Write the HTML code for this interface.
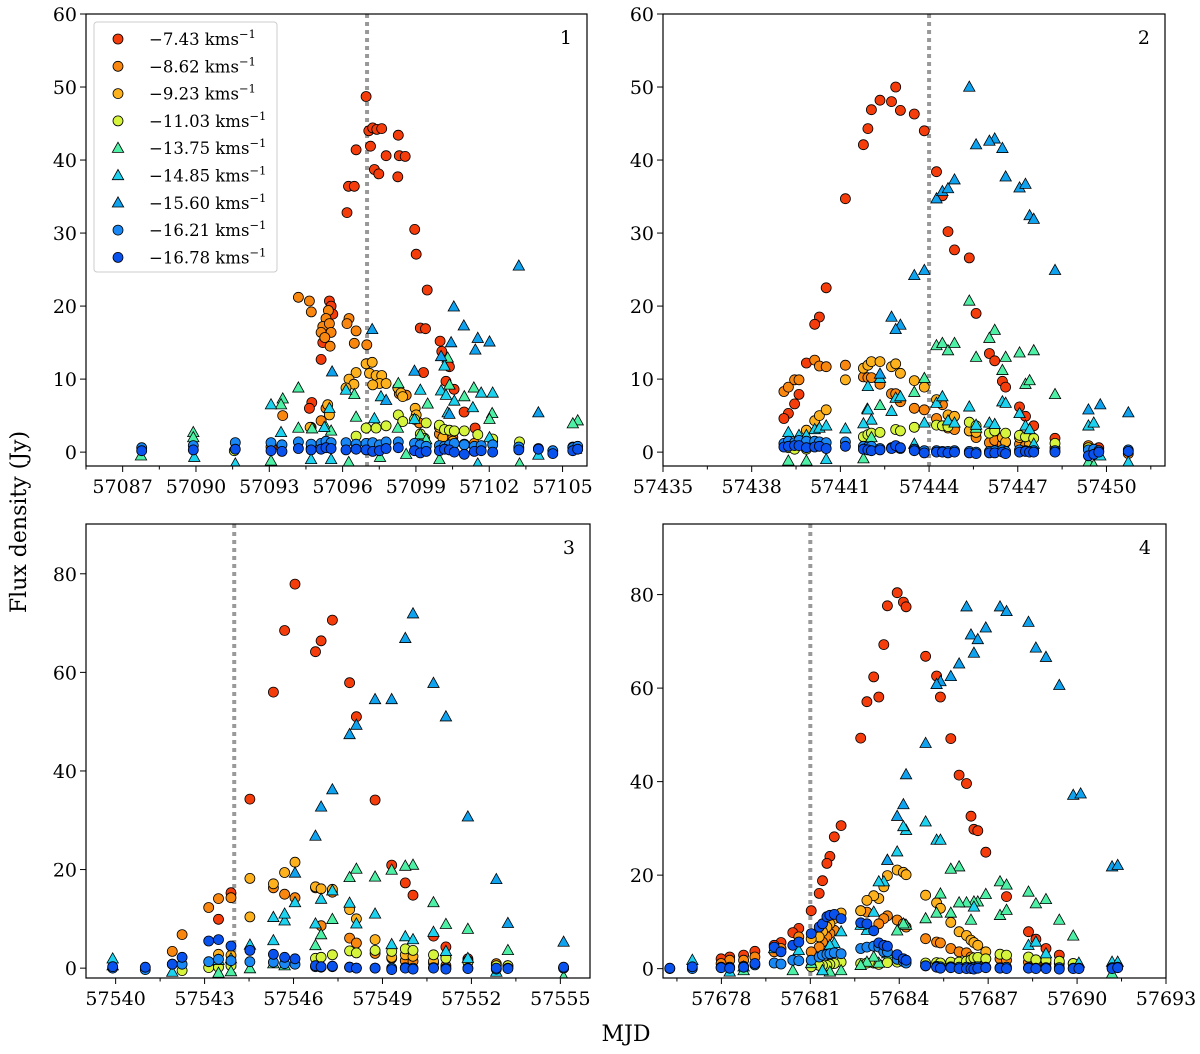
<!DOCTYPE html>
<html><head><meta charset="utf-8"><style>
html,body{margin:0;padding:0;background:#fff}
svg{display:block;font-family:"DejaVu Serif","Liberation Serif",serif}
</style></head><body>
<svg id="chart" width="1200" height="1054" viewBox="0 0 1200 1054" xmlns="http://www.w3.org/2000/svg">
<text x="0" y="0" transform="translate(26,522) rotate(-90)" text-anchor="middle" font-size="22">Flux density (Jy)</text>
<text x="626" y="1041" text-anchor="middle" font-size="22">MJD</text>
</svg>
<script>
// ---------- DATA ----------
const velocityLabels = ["−7.43","−8.62","−9.23","−11.03","−13.75","−14.85","−15.60","−16.21","−16.78"];
const panelNames = ["1","2","3","4"];
const eventMjd = [57097.0, 57444.0, 57544.0, 57681.0];

// Panel 1
const p1_743 = [[57096.96,48.7],[57097.07,44.0],[57097.23,44.4],[57097.40,44.2],[57097.60,44.3],[57098.28,43.4],[57096.55,41.4],[57097.14,41.9],[57097.78,40.6],[57098.32,40.6],[57098.56,40.5],[57097.30,38.7],[57097.48,38.1],[57098.26,37.7],[57096.24,36.4],[57096.48,36.4],[57096.18,32.8],[57098.95,30.5],[57099.01,27.1],[57099.46,22.2],[57099.18,17.0],[57099.39,16.9],[57099.99,15.2],[57100.06,13.8],[57100.37,11.7],[57099.31,10.9],[57100.23,9.7],[57100.56,8.6],[57100.97,5.5],[57101.42,3.3],[57094.74,6.8],[57094.64,6.0],[57095.12,12.7],[57095.46,20.7],[57095.53,20.0],[57095.60,18.9],[57095.19,15.0],[57093.48,0.7]];
const p1_862 = [[57094.19,21.2],[57094.64,20.7],[57094.72,19.2],[57095.42,19.4],[57095.32,18.3],[57095.19,17.2],[57095.46,17.6],[57095.12,16.4],[57095.53,16.4],[57095.27,15.7],[57095.49,14.5],[57096.26,18.3],[57096.18,17.6],[57096.55,16.6],[57096.48,14.9],[57096.99,14.7],[57093.55,5.0],[57095.32,6.0],[57095.12,4.3],[57094.71,3.4],[57098.32,8.0],[57098.60,7.8],[57099.14,4.0],[57099.96,2.5],[57100.51,2.0],[57101.39,1.2]];
const p1_923 = [[57096.96,12.1],[57097.21,12.3],[57097.10,10.8],[57097.37,10.5],[57097.60,10.5],[57097.51,9.4],[57097.78,9.4],[57097.23,9.2],[57096.55,10.9],[57096.26,10.0],[57096.46,9.3],[57096.14,8.8],[57098.26,8.8],[57098.39,8.1],[57098.46,7.6],[57098.97,6.0],[57099.01,5.1],[57099.96,3.4],[57100.10,2.0],[57100.51,1.5],[57100.98,1.1],[57102.14,1.5],[57103.21,0.5],[57095.39,6.5],[57095.46,5.1],[57094.67,3.4],[57093.07,0.7],[57105.42,0.7]];
const p1_1103 = [[57096.96,3.3],[57097.37,3.3],[57097.78,3.6],[57098.28,5.1],[57098.46,4.2],[57098.94,4.5],[57099.42,4.0],[57099.96,3.7],[57100.17,3.1],[57100.37,3.0],[57100.57,2.9],[57100.98,2.9],[57101.53,2.4],[57102.14,1.8],[57103.24,1.4],[57096.55,2.2],[57091.57,0.2],[57094.71,0.5],[57099.18,2.5],[57099.35,1.9]];
const p1_1375 = [[57089.89,2.7],[57089.89,2.0],[57087.75,-0.5],[57093.55,7.3],[57093.48,6.5],[57094.19,8.8],[57094.19,3.3],[57094.75,3.2],[57095.32,3.4],[57095.53,2.9],[57096.55,4.8],[57096.48,7.9],[57097.53,-0.7],[57098.28,9.4],[57098.26,3.3],[57099.48,6.6],[57100.30,12.9],[57100.37,9.2],[57100.98,7.6],[57101.37,8.8],[57102.12,5.3],[57102.01,4.5],[57105.62,4.3],[57105.42,3.9],[57099.18,2.4],[57099.42,1.7],[57098.60,-0.3],[57099.96,-1.0],[57103.24,-1.6],[57096.25,-1.4],[57093.07,-1.2]];
const p1_1485 = [[57093.07,6.5],[57093.48,2.7],[57095.25,3.4],[57095.46,6.0],[57096.14,8.5],[57097.30,4.6],[57097.57,7.6],[57098.94,4.5],[57099.18,8.5],[57100.17,11.8],[57100.03,8.4],[57100.23,7.8],[57100.57,7.0],[57100.30,5.4],[57101.33,6.1],[57101.67,8.1],[57102.14,8.1],[57102.01,2.0],[57091.61,-1.6],[57094.71,-1.0],[57095.53,-1.0],[57089.93,-0.7],[57105.55,0.4],[57104.01,-0.4],[57101.53,-1.6]];
const p1_1560 = [[57103.21,25.5],[57100.55,19.9],[57100.96,17.3],[57101.53,15.6],[57102.01,15.1],[57101.43,14.0],[57100.44,15.0],[57100.03,13.1],[57097.21,16.8],[57095.57,11.0],[57098.94,11.1],[57104.01,5.4],[57097.78,7.1],[57100.37,5.2]];
const p1_blueMjd = [57087.78,57089.89,57091.61,57093.07,57093.52,57094.19,57094.71,57095.12,57095.32,57095.53,57096.14,57096.55,57096.96,57097.23,57097.51,57097.78,57098.28,57098.94,57099.18,57099.42,57099.96,57100.17,57100.37,57100.57,57100.98,57101.39,57101.67,57102.14,57103.21,57104.01,57104.60,57105.42,57105.62];
const p1_1621 = [0.6,0.9,1.3,1.3,1.0,1.4,1.1,1.2,1.5,1.3,1.3,1.1,1.2,1.3,1.0,1.4,1.4,1.2,1.0,0.8,0.9,0.8,1.0,1.2,1.0,0.8,0.9,1.0,0.7,0.5,0.2,0.6,0.8];
const p1_1678 = [0.2,0.3,0.4,0.2,0.1,0.5,0.3,0.4,0.6,0.5,0.3,0.4,0.3,0.1,0.2,0.5,0.6,0.2,-0.1,0.1,0.2,0.4,0.3,0.0,-0.3,0.1,0.2,0.0,0.3,0.4,-0.2,0.2,0.4];

// Panel 2
const p2_743 = [[57442.87,50.0],[57442.34,48.2],[57442.73,48.0],[57442.05,46.9],[57443.03,46.8],[57443.50,46.3],[57441.93,44.3],[57443.84,44.0],[57441.78,42.1],[57441.17,34.7],[57444.25,38.4],[57444.45,35.1],[57444.64,30.2],[57444.86,27.7],[57445.36,26.6],[57445.59,19.0],[57440.52,22.5],[57440.29,18.5],[57440.13,17.5],[57439.85,12.2],[57439.60,7.9],[57439.45,6.6],[57439.24,5.3],[57439.09,4.6],[57446.04,13.5],[57446.22,12.5],[57446.48,9.7],[57446.59,8.9],[57447.06,6.2],[57447.26,4.9],[57447.54,3.6],[57448.26,1.9],[57449.74,0.6]];
const p2_862 = [[57439.09,8.3],[57439.24,8.9],[57439.45,9.9],[57439.60,9.9],[57440.13,12.6],[57440.29,11.8],[57440.52,11.7],[57441.17,11.9],[57441.78,10.3],[57441.93,10.2],[57442.05,10.2],[57442.34,9.3],[57442.73,8.0],[57442.87,8.0],[57443.03,6.9],[57443.50,6.0],[57443.84,5.8],[57444.25,4.6],[57444.45,6.5],[57444.64,3.3],[57444.86,3.1],[57445.36,2.9],[57445.59,2.0],[57446.04,1.3],[57446.22,1.6],[57446.48,1.1],[57446.59,1.3],[57447.06,1.1],[57447.26,0.9],[57448.26,0.6],[57449.39,0.9],[57450.74,-0.2]];
const p2_923 = [[57439.85,3.0],[57440.13,4.3],[57440.29,5.0],[57440.52,5.8],[57441.17,9.9],[57441.78,11.5],[57441.93,11.9],[57442.05,12.4],[57442.34,12.4],[57442.73,11.7],[57442.87,12.1],[57443.03,10.8],[57443.50,9.8],[57443.84,8.9],[57444.25,7.2],[57444.64,5.1],[57444.86,4.9],[57445.36,2.9],[57445.59,2.7],[57446.22,2.9],[57446.48,2.0],[57446.59,1.4],[57447.06,2.0],[57447.40,1.1]];
const p2_1103 = [[57439.24,0.6],[57439.45,0.4],[57439.85,0.4],[57441.78,2.1],[57441.93,2.4],[57442.05,2.6],[57442.34,2.7],[57442.87,3.1],[57443.03,2.9],[57443.50,3.4],[57444.25,3.7],[57444.45,3.6],[57444.64,3.5],[57445.36,4.1],[57445.59,3.6],[57446.04,2.6],[57446.22,2.9],[57446.59,2.6],[57447.06,2.3],[57447.26,2.1],[57447.54,1.9],[57448.26,1.2],[57449.39,0.6]];
const p2_1375 = [[57445.36,20.7],[57446.22,16.7],[57446.04,15.6],[57445.59,13.0],[57446.59,13.0],[57444.25,14.6],[57444.45,14.9],[57444.64,13.9],[57444.86,14.9],[57447.06,13.6],[57447.54,13.9],[57446.48,11.2],[57447.26,9.3],[57447.40,9.8],[57448.26,7.9],[57443.84,10.1],[57443.50,8.2],[57442.34,6.4],[57442.05,2.0],[57441.91,5.9],[57439.24,-1.2],[57439.85,-1.2],[57441.78,-0.9],[57449.39,-1.4],[57449.57,-1.8],[57445.59,3.3]];
const p2_1485 = [[57441.93,9.0],[57442.34,10.1],[57442.87,7.4],[57443.03,7.6],[57442.73,5.6],[57441.93,5.8],[57442.05,4.4],[57443.84,4.0],[57444.25,6.7],[57444.45,7.6],[57444.64,4.3],[57444.86,4.0],[57445.36,6.2],[57445.59,3.7],[57446.48,6.9],[57446.59,6.7],[57447.06,5.3],[57447.26,3.6],[57447.40,3.1],[57446.04,4.0],[57446.22,3.8],[57449.39,3.6],[57449.57,4.0],[57439.24,2.7],[57439.60,2.3],[57439.85,2.3],[57440.13,3.1],[57440.29,3.3],[57440.52,3.6],[57441.17,3.2],[57441.78,3.9],[57440.52,-1.0],[57449.79,-0.5],[57450.74,-1.4],[57443.50,1.1],[57447.54,1.1]];
const p2_1560 = [[57445.36,50.0],[57446.22,42.9],[57446.04,42.6],[57445.59,42.1],[57446.48,41.6],[57446.59,37.7],[57447.06,36.2],[57447.26,36.7],[57447.40,32.4],[57447.54,31.9],[57448.26,24.9],[57444.25,34.7],[57444.45,35.7],[57444.64,36.1],[57444.86,37.3],[57443.84,24.9],[57443.50,24.2],[57442.73,18.5],[57443.03,17.4],[57442.87,16.8],[57450.74,5.4],[57449.79,6.5],[57449.39,5.8],[57442.34,10.7]];
const p2_blueMjd = [57439.09,57439.24,57439.45,57439.60,57439.85,57440.13,57440.29,57440.52,57441.17,57441.78,57441.93,57442.05,57442.34,57442.73,57442.87,57443.03,57443.50,57443.84,57444.25,57444.45,57444.64,57444.86,57445.36,57445.59,57446.04,57446.22,57446.48,57446.59,57447.06,57447.26,57447.40,57447.54,57448.26,57449.39,57449.57,57449.74,57450.74];
const p2_1621 = [1.2,1.5,1.3,1.6,1.5,1.5,1.4,1.3,1.4,0.8,0.7,0.8,0.5,0.6,0.7,0.5,0.4,0.2,0.2,0.1,0.1,0.2,0.1,0.0,0.1,0.2,0.3,0.1,0.3,0.2,0.1,0.2,0.2,0.3,0.4,0.2,0.3];
const p2_1678 = [0.7,0.8,0.9,0.9,0.6,0.7,0.8,0.5,0.8,0.4,0.3,0.2,0.3,0.5,0.9,0.6,0.2,-0.1,0.0,0.0,-0.1,0.0,-0.1,-0.2,-0.1,-0.1,0.0,-0.2,0.0,0.1,0.0,0.0,0.0,-0.5,-0.3,0.0,0.1];

// Panel 3
const p3_743 = [[57546.05,77.9],[57545.70,68.5],[57545.32,56.0],[57547.31,70.6],[57546.93,66.4],[57546.74,64.2],[57547.89,57.9],[57548.12,51.0],[57544.53,34.3],[57548.75,34.1],[57549.31,20.9],[57549.77,17.3],[57550.03,14.8],[57543.47,9.9],[57543.89,15.3],[57550.72,6.5],[57551.14,4.3],[57551.88,1.9]];
const p3_862 = [[57543.14,12.3],[57543.47,14.1],[57543.89,14.3],[57542.24,6.8],[57541.91,3.4],[57545.32,16.3],[57545.70,15.0],[57546.05,14.3],[57546.74,16.3],[57546.93,8.6],[57547.31,15.4],[57547.89,6.1],[57548.12,5.1],[57548.75,3.0],[57549.31,2.0],[57549.77,1.5],[57550.03,1.4],[57550.72,1.0],[57551.14,0.5],[57551.88,1.5],[57552.84,0.9],[57553.23,0.5],[57555.11,0.0]];
const p3_923 = [[57544.53,18.2],[57544.53,10.4],[57545.32,17.1],[57545.70,19.4],[57546.05,21.5],[57546.74,16.5],[57546.93,16.1],[57547.31,16.0],[57547.89,11.9],[57548.12,10.0],[57548.75,5.8],[57549.31,2.2],[57549.77,2.7],[57550.03,2.4],[57550.72,1.4],[57551.14,2.2],[57543.47,2.8],[57543.89,2.6]];
const p3_1103 = [[57542.24,-0.5],[57543.14,0.1],[57543.47,0.2],[57543.89,0.5],[57546.74,2.0],[57546.93,2.2],[57547.31,2.7],[57547.89,3.5],[57548.12,3.1],[57548.75,3.6],[57549.31,3.4],[57549.77,3.9],[57550.03,3.6],[57550.72,2.7],[57551.14,2.0],[57551.88,1.2],[57552.84,0.5],[57553.23,0.5]];
const p3_1375 = [[57550.03,20.9],[57549.77,20.7],[57549.31,19.9],[57548.75,18.5],[57548.12,20.1],[57547.89,18.4],[57550.72,13.3],[57551.14,8.9],[57551.88,7.9],[57553.23,3.6],[57547.31,9.9],[57546.93,6.8],[57546.74,4.6],[57545.32,0.9],[57545.70,0.5],[57544.53,-0.1],[57543.89,-0.7],[57543.47,-1.0],[57539.90,0.5],[57555.11,-1.8]];
const p3_1485 = [[57546.05,13.3],[57545.70,9.6],[57545.32,10.3],[57545.70,11.0],[57546.74,9.0],[57546.93,14.0],[57547.31,15.7],[57547.89,13.2],[57548.12,9.0],[57548.75,11.0],[57549.31,4.8],[57549.77,6.4],[57550.03,5.8],[57550.72,7.3],[57551.14,3.4],[57551.88,2.0],[57552.84,-0.8],[57545.32,5.6],[57544.53,4.7],[57539.90,1.9],[57541.91,-0.8],[57543.47,1.6],[57543.89,1.9]];
const p3_1560 = [[57550.03,71.9],[57549.77,66.9],[57548.75,54.5],[57549.31,54.5],[57550.72,57.8],[57551.14,51.0],[57547.89,47.4],[57548.12,49.3],[57547.31,36.2],[57546.93,32.7],[57546.74,26.8],[57551.88,30.7],[57552.84,18.0],[57553.23,9.1],[57555.11,5.3],[57546.05,19.3]];
const p3_blueMjd = [57539.90,57541.00,57541.91,57542.24,57543.14,57543.47,57543.89,57544.53,57545.32,57545.70,57546.05,57546.74,57546.93,57547.31,57547.89,57548.12,57548.75,57549.31,57549.77,57550.03,57550.72,57551.14,57551.88,57552.84,57553.23,57555.11];
const p3_1621 = [0.0,-0.3,0.8,0.8,1.3,1.8,1.5,1.3,1.2,0.9,0.8,0.3,0.2,0.3,0.2,0.0,0.0,0.0,0.1,0.0,0.1,0.0,0.0,-0.2,0.0,0.0];
const p3_1678 = [0.3,0.2,0.8,2.2,5.5,5.8,4.5,3.6,2.8,2.2,1.9,0.5,0.3,0.4,0.2,0.0,0.0,-0.3,0.0,-0.2,0.0,-0.2,-0.1,0.0,-0.1,0.2];

// Panel 4
const p4_743 = [[57683.93,80.4],[57684.14,78.4],[57684.23,77.4],[57683.60,77.6],[57683.48,69.3],[57683.14,62.4],[57683.31,58.1],[57682.91,57.1],[57682.70,49.3],[57684.89,66.8],[57685.26,62.6],[57685.39,58.1],[57685.74,49.2],[57686.02,41.4],[57686.27,39.6],[57686.42,32.6],[57686.52,29.8],[57686.65,29.5],[57686.92,24.9],[57687.62,15.4],[57688.36,7.9],[57688.61,6.3],[57688.95,4.3],[57689.40,2.9],[57682.04,30.6],[57681.81,28.2],[57681.66,24.0],[57681.56,22.5],[57681.41,18.8],[57681.30,16.1],[57681.03,12.4],[57680.61,8.6],[57680.41,7.7],[57680.01,5.6],[57679.78,5.0],[57679.13,3.7],[57678.75,2.9],[57678.28,2.5],[57677.99,2.1]];
const p4_862 = [[57683.60,11.3],[57683.48,10.7],[57683.31,9.6],[57683.93,10.4],[57684.14,9.6],[57684.23,8.9],[57684.89,6.4],[57685.26,5.7],[57685.39,5.5],[57685.74,4.3],[57686.02,3.6],[57686.27,3.4],[57686.42,2.5],[57686.65,2.1],[57686.92,2.1],[57687.40,2.1],[57687.62,1.8],[57688.36,1.4],[57688.61,1.1],[57688.95,1.1],[57689.40,1.1],[57689.87,1.1],[57682.70,12.4],[57682.91,12.1],[57681.81,8.2],[57681.66,7.5],[57681.56,6.8],[57681.41,5.7],[57681.30,4.6],[57681.03,3.6],[57680.61,6.8],[57680.01,4.3],[57679.78,3.6],[57679.13,2.5],[57678.75,1.8],[57678.28,1.8],[57677.99,1.1]];
const p4_923 = [[57683.93,21.1],[57684.14,20.6],[57684.23,20.1],[57683.60,19.9],[57683.48,17.5],[57683.31,15.0],[57683.14,15.6],[57682.91,14.6],[57682.70,12.4],[57684.89,15.7],[57685.26,14.1],[57685.39,12.9],[57685.74,9.9],[57686.02,7.9],[57686.27,7.1],[57686.42,6.1],[57686.52,5.6],[57686.65,5.0],[57686.92,3.6],[57682.04,11.9],[57681.81,10.7],[57681.66,9.6],[57681.56,8.9],[57681.41,7.9],[57681.30,6.8],[57681.03,6.4]];
const p4_1103 = [[57682.70,1.1],[57682.91,1.2],[57683.14,1.2],[57683.31,0.9],[57683.60,1.3],[57683.93,1.4],[57684.14,1.8],[57684.23,1.6],[57684.89,1.2],[57685.26,1.3],[57685.39,1.2],[57685.74,1.4],[57686.02,1.4],[57686.27,1.6],[57686.42,1.9],[57686.52,2.3],[57686.65,2.4],[57686.92,2.1],[57687.40,3.1],[57687.62,2.9],[57688.36,2.5],[57688.61,1.9],[57688.95,1.8],[57689.40,1.6],[57689.87,1.1],[57682.04,1.4],[57681.81,1.1],[57681.66,0.9],[57681.56,0.7],[57681.41,0.7],[57681.30,0.7],[57681.03,0.4]];
const p4_1375 = [[57687.40,18.6],[57687.62,17.9],[57688.36,16.4],[57688.61,13.9],[57688.95,14.8],[57689.40,10.4],[57689.87,7.0],[57686.92,15.9],[57686.65,14.3],[57686.52,14.3],[57686.27,14.1],[57686.02,21.8],[57685.74,21.3],[57685.39,16.0],[57685.26,11.9],[57685.74,11.9],[57686.02,14.1],[57686.42,10.4],[57687.40,11.4],[57687.62,12.5],[57684.89,10.7],[57684.23,9.3],[57684.14,9.6],[57683.93,8.1],[57683.60,3.2],[57683.31,1.2],[57683.14,2.5],[57682.91,1.4],[57682.70,0.7],[57682.04,-0.4],[57681.66,-0.7],[57681.41,-0.4],[57681.03,1.1],[57680.41,-0.4],[57678.75,-0.4],[57691.18,-1.1]];
const p4_1485 = [[57684.89,31.4],[57685.26,27.5],[57685.39,27.5],[57684.23,29.6],[57684.14,30.4],[57683.93,25.0],[57683.60,23.2],[57683.48,18.6],[57683.31,18.6],[57683.14,12.1],[57682.91,8.2],[57682.70,9.3],[57682.04,7.9],[57681.81,5.4],[57681.66,5.0],[57686.52,13.2],[57688.36,5.0],[57688.61,5.7],[57688.95,3.2],[57690.06,1.2],[57691.18,1.4],[57691.37,1.4],[57681.41,-0.4],[57680.61,3.9],[57679.78,4.3],[57678.28,-0.7],[57678.75,0.4],[57677.02,1.8]];
const p4_1560 = [[57686.27,77.4],[57687.40,77.4],[57687.62,76.4],[57688.36,74.1],[57686.92,72.9],[57686.42,71.4],[57686.65,70.4],[57686.52,67.5],[57686.02,65.2],[57685.74,62.5],[57685.39,61.4],[57685.26,60.8],[57688.61,68.6],[57688.95,66.6],[57689.40,60.6],[57684.89,48.2],[57684.23,41.5],[57684.14,35.1],[57683.93,32.6],[57683.60,23.2],[57689.87,37.1],[57690.12,37.4],[57691.18,21.8],[57691.37,22.1]];
const p4_blueMjd = [57676.26,57677.02,57677.99,57678.28,57678.75,57679.13,57679.78,57680.01,57680.41,57680.61,57681.03,57681.30,57681.41,57681.56,57681.66,57681.81,57682.04,57682.70,57682.91,57683.14,57683.31,57683.48,57683.60,57683.93,57684.14,57684.23,57684.89,57685.26,57685.39,57685.74,57686.02,57686.27,57686.42,57686.52,57686.65,57686.92,57687.40,57687.62,57688.36,57688.61,57688.95,57689.40,57689.87,57690.06,57691.18,57691.37];
const p4_1621 = [0.0,0.0,0.3,0.3,0.5,0.8,1.2,1.0,1.8,1.7,1.8,2.5,2.9,3.1,3.2,3.4,3.2,4.3,4.6,4.8,4.6,3.6,3.6,2.0,1.5,1.2,0.6,0.5,0.4,0.4,0.3,0.3,0.2,0.3,0.4,0.3,0.2,0.3,0.2,0.1,0.2,0.2,0.1,0.1,0.2,0.3];
const p4_1678 = [0.1,0.4,0.2,0.1,0.3,1.1,4.6,3.6,5.0,5.7,7.5,8.9,9.6,11.1,11.4,11.6,10.7,9.8,9.6,8.1,5.5,5.0,4.8,3.0,2.1,1.8,0.6,0.3,0.1,0.2,0.0,0.0,0.0,-0.1,0.1,0.2,0.1,0.0,0.1,0.0,0.0,-0.1,0.0,0.0,0.0,0.2];

// ---------- LAYOUT / STYLE ----------
const colors = ["#f53d0c","#f8860f","#fcb11d","#d6f43c","#4ef0a6","#1cd2ee","#0fa2ef","#1a88f4","#0a52ee"];
const markers = ["o","o","o","o","^","^","^","o","o"];
const panels = [
 {x0:86,x1:587,y0:14,y1:466,xmin:57085.5,xmax:57106.0,ymin:-1.9,ymax:60,xt:[57087,57090,57093,57096,57099,57102,57105],yt:[0,10,20,30,40,50,60],
  series:[p1_743,p1_862,p1_923,p1_1103,p1_1375,p1_1485,p1_1560],bm:p1_blueMjd,b1:p1_1621,b2:p1_1678},
 {x0:663,x1:1165,y0:14,y1:466,xmin:57435.0,xmax:57451.98,ymin:-1.9,ymax:60,xt:[57435,57438,57441,57444,57447,57450],yt:[0,10,20,30,40,50,60],
  series:[p2_743,p2_862,p2_923,p2_1103,p2_1375,p2_1485,p2_1560],bm:p2_blueMjd,b1:p2_1621,b2:p2_1678},
 {x0:86,x1:590,y0:524,y1:978,xmin:57539.0,xmax:57556.0,ymin:-2.0,ymax:90.1,xt:[57540,57543,57546,57549,57552,57555],yt:[0,20,40,60,80],
  series:[p3_743,p3_862,p3_923,p3_1103,p3_1375,p3_1485,p3_1560],bm:p3_blueMjd,b1:p3_1621,b2:p3_1678},
 {x0:663,x1:1166,y0:524,y1:978,xmin:57676.03,xmax:57693.0,ymin:-2.0,ymax:95.1,xt:[57678,57681,57684,57687,57690,57693],yt:[0,20,40,60,80],
  series:[p4_743,p4_862,p4_923,p4_1103,p4_1375,p4_1485,p4_1560],bm:p4_blueMjd,b1:p4_1621,b2:p4_1678}
];
const NS="http://www.w3.org/2000/svg";
const svg=document.getElementById('chart');
function mk(tag,attrs,parent){const e=document.createElementNS(NS,tag);for(const k in attrs)e.setAttribute(k,attrs[k]);(parent||svg).appendChild(e);return e;}
function drawMarker(g,kind,x,y,color){
  let m;
  if(kind==="o"){m=mk('circle',{cx:x.toFixed(1),cy:y.toFixed(1),r:5,fill:color,stroke:'#000','stroke-width':0.8},g);}
  else{const s=6;m=mk('polygon',{points:`${x},${y-s} ${x-s*0.95},${y+s*0.7} ${x+s*0.95},${y+s*0.7}`,fill:color,stroke:'#000','stroke-width':0.8},g);}
  return m;
}
panels.forEach((p,pi)=>{
  const sx=v=>p.x0+(v-p.xmin)/(p.xmax-p.xmin)*(p.x1-p.x0);
  const sy=v=>p.y1-(v-p.ymin)/(p.ymax-p.ymin)*(p.y1-p.y0);
  const g=mk('g',{});
  
  
  const clipId='clip'+pi;
  const cp=mk('clipPath',{id:clipId},g);
  mk('rect',{x:p.x0,y:p.y0,width:p.x1-p.x0,height:p.y1-p.y0},cp);
  const ev=mk('line',{x1:sx(eventMjd[pi]),x2:sx(eventMjd[pi]),y1:p.y0,y2:p.y1,stroke:'#999','stroke-width':4,'stroke-dasharray':'4,4'},g);
  
  
  const mg=mk('g',{'clip-path':`url(#${clipId})`},g);
  
  
  p.series.forEach((s,si)=>{
    s.forEach(pt=>{
      const m=drawMarker(mg,markers[si],sx(pt[0]),sy(pt[1]),colors[si]);
      
      
    });
  });
  [p.b1,p.b2].forEach((arr,k)=>{
    arr.forEach((v,i)=>{
      const m=drawMarker(mg,'o',sx(p.bm[i]),sy(v),colors[7+k]);
      
      
    });
  });
  const fr=mk('rect',{x:p.x0,y:p.y0,width:p.x1-p.x0,height:p.y1-p.y0,fill:'none',stroke:'#000','stroke-width':1.2},g);
  
  
  const step=p.xt[1]-p.xt[0];
  for(let t=p.xt[0]-step;t<=p.xmax+0.01;t+=step/2){
    if(t<p.xmin-0.01)continue;
    const major=p.xt.includes(t);
    mk('line',{x1:sx(t),x2:sx(t),y1:p.y1,y2:p.y1+(major?6:3.5),stroke:'#000','stroke-width':1},g);
  }
  p.xt.forEach(t=>{
    const tx=mk('text',{x:sx(t),y:p.y1+27,'text-anchor':'middle','font-size':19},g);
    tx.textContent=t;
    
    
  });
  p.yt.forEach(t=>{
    mk('line',{x1:p.x0-6,x2:p.x0,y1:sy(t),y2:sy(t),stroke:'#000','stroke-width':1},g);
    const tx=mk('text',{x:p.x0-9,y:sy(t)+7,'text-anchor':'end','font-size':19},g);
    tx.textContent=t;
    
    
  });
  const pl=mk('text',{x:p.x1-15,y:p.y0+30,'text-anchor':'end','font-size':19},g);
  pl.textContent=panelNames[pi];
  
  
});
const lg=mk('g',{});


mk('rect',{x:94,y:22,width:183,height:250,rx:3,fill:'#fff','fill-opacity':0.85,stroke:'#ccc','stroke-width':1},lg);
velocityLabels.forEach((v,i)=>{
  const y=39+i*27.3;
  const e=mk('g',{},lg);
  
  
  drawMarker(e,markers[i],118,y,colors[i]);
  const t=mk('text',{x:149,y:y+6,'font-size':16.5},e);
  t.textContent=v+' kms';
  const sp=mk('tspan',{dy:-7,'font-size':11.5},t);
  sp.textContent='−1';
});
</script>
</body></html>
